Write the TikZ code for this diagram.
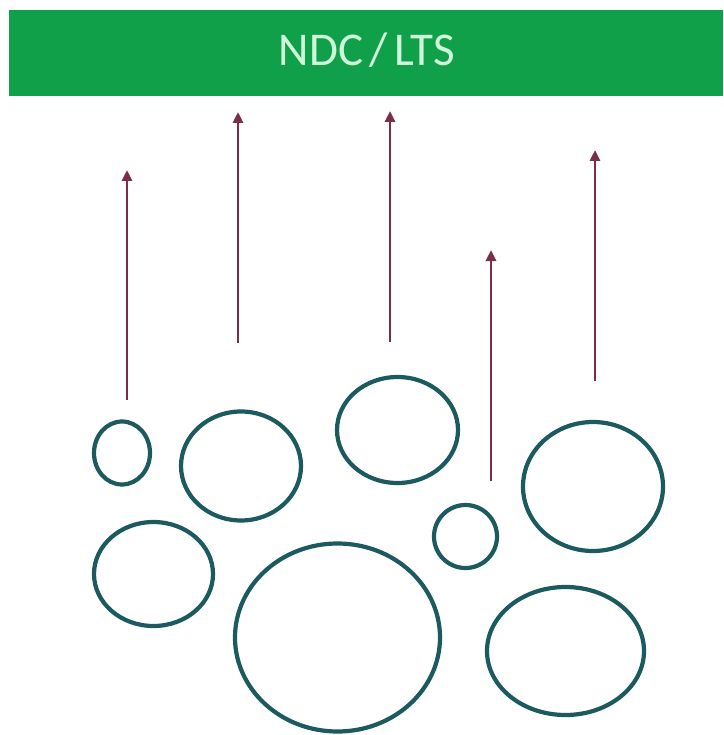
\documentclass[tikz,border=0pt]{standalone}
\usepackage{fontspec}
\setmainfont{Carlito}
\usetikzlibrary{arrows.meta,shapes.geometric}
\definecolor{bargreen}{HTML}{11A04A}
\definecolor{barText}{HTML}{CFF7DA}
\definecolor{ringteal}{HTML}{1B5A5E}
\definecolor{arrowred}{HTML}{7A2E48}
\tikzset{
  ring/.style={draw=ringteal, line width=4.2pt, ellipse, inner sep=0pt, outer sep=0pt},
  riser/.style={draw=arrowred, line width=2.8pt, -{Triangle[width=10pt,length=11pt]}},
}
\begin{document}
\begin{tikzpicture}[x=1pt,y=-1pt]
  \useasboundingbox (0,0) rectangle (723,735);
  \fill[white] (0,0) rectangle (723,735);

  % header bar
  \fill[bargreen] (9,10) rectangle (723,96);
  \node[text=barText, font=\fontsize{47}{47}\selectfont, inner sep=0pt] (ndc) at (367,50)
    {NDC\hspace{0.14em}/\hspace{0.14em}LTS};

  % rings
  \node[ring, minimum width=56pt, minimum height=63pt] (r1) at (122,453) {};
  \node[ring, minimum width=120pt, minimum height=109pt] (r2) at (241,466) {};
  \node[ring, minimum width=121pt, minimum height=106pt] (r3) at (397.5,430) {};
  \node[ring, minimum width=63pt, minimum height=63pt] (r4) at (465.5,536.5) {};
  \node[ring, minimum width=140pt, minimum height=129pt] (r5) at (593,486.5) {};
  \node[ring, minimum width=119pt, minimum height=104pt] (r6) at (153.5,574) {};
  \node[ring, minimum width=205pt, minimum height=188pt] (r7) at (337.5,637.5) {};
  \node[ring, minimum width=157pt, minimum height=128pt] (r8) at (565.5,651) {};

  % upward arrows
  \coordinate (a1s) at (127,400); \coordinate (a1e) at (127,170);
  \coordinate (a2s) at (238,343); \coordinate (a2e) at (238,112);
  \coordinate (a3s) at (390,342); \coordinate (a3e) at (390,111);
  \coordinate (a4s) at (491,481); \coordinate (a4e) at (491,250);
  \coordinate (a5s) at (595,381); \coordinate (a5e) at (595,150);
  \draw[riser] (a1s) -- (a1e);
  \draw[riser] (a2s) -- (a2e);
  \draw[riser] (a3s) -- (a3e);
  \draw[riser] (a4s) -- (a4e);
  \draw[riser] (a5s) -- (a5e);
\end{tikzpicture}
\end{document}
